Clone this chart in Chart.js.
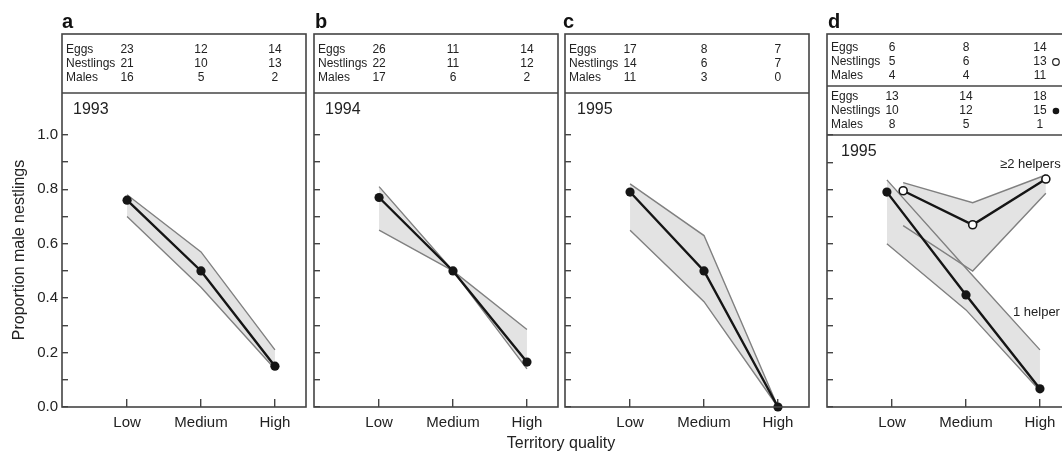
<!DOCTYPE html>
<html>
<head>
<meta charset="utf-8">
<script src="https://cdn.jsdelivr.net/npm/chart.js@4.4.0/dist/chart.umd.min.js"></script>
<style>
  html, body { margin: 0; padding: 0; background: #fff; overflow: hidden; }
  #fig { position: relative; width: 1062px; height: 453px; overflow: hidden; background: #fff; }
  #fig canvas { position: absolute; top: 0; }
  #xtitle { position: absolute; left: 461px; width: 200px; top: 434px; text-align: center;
            font: 16px "Liberation Sans", Arial, Helvetica, sans-serif; color: #222; }
</style>
</head>
<body>
<div id="fig">
  <canvas id="panelA" width="312" height="453" style="left:-2px"></canvas>
  <canvas id="panelB" width="312" height="453" style="left:250px"></canvas>
  <canvas id="panelC" width="312" height="453" style="left:501px"></canvas>
  <canvas id="panelD" width="312" height="453" style="left:763px"></canvas>
  <div id="xtitle">Territory quality</div>
</div>
<script>
const FONT = '"Liberation Sans", Arial, Helvetica, sans-serif';

// categories / ticks
const qualityLabels = ['Low', 'Medium', 'High'];
const qualityX = [0, 1, 2];
const yTicks = [0.0, 0.1, 0.2, 0.3, 0.4, 0.5, 0.6, 0.7, 0.8, 0.9, 1.0];
const rowNames = ['Eggs', 'Nestlings', 'Males'];

// a - 1993
const eggsA = [23, 12, 14];
const nestlingsA = [21, 10, 13];
const malesA = [16, 5, 2];
const meanA = [0.76, 0.50, 0.15];
const upperA = [0.78, 0.57, 0.21];
const lowerA = [0.70, 0.44, 0.14];

// b - 1994
const eggsB = [26, 11, 14];
const nestlingsB = [22, 11, 12];
const malesB = [17, 6, 2];
const meanB = [0.77, 0.50, 0.165];
const upperB = [0.81, 0.50, 0.14];
const lowerB = [0.65, 0.50, 0.285];

// c - 1995
const eggsC = [17, 8, 7];
const nestlingsC = [14, 6, 7];
const malesC = [11, 3, 0];
const meanC = [0.79, 0.50, 0.0];
const upperC = [0.82, 0.63, 0.0];
const lowerC = [0.65, 0.387, 0.0];

// d - 1995 by number of helpers (points slightly shifted off the ticks)
const eggsD2 = [6, 8, 14];
const nestlingsD2 = [5, 6, 13];
const malesD2 = [4, 4, 11];
const eggsD1 = [13, 14, 18];
const nestlingsD1 = [10, 12, 15];
const malesD1 = [8, 5, 1];
const helper2X = [0.15, 1.09, 2.08];
const helper2Mean = [0.795, 0.67, 0.838];
const helper2Upper = [0.825, 0.751, 0.853];
const helper2Lower = [0.667, 0.50, 0.786];
const helper1X = [-0.07, 1.0, 2.0];
const helper1Mean = [0.79, 0.412, 0.067];
const helper1Upper = [0.835, 0.51, 0.21];
const helper1Lower = [0.60, 0.357, 0.06];

function pts(xs, ys) {
    return ys.map((y, i) => ({ x: xs[i], y: y }));
}

function meanSet(xs, ys, open) {
    return {
        data: pts(xs, ys),
        borderColor: '#151515',
        borderWidth: 2.4,
        fill: false,
        clip: false,
        pointRadius: open ? 4 : 4.6,
        pointBorderWidth: open ? 1.6 : 0,
        pointBackgroundColor: open ? '#fff' : '#151515',
        pointBorderColor: '#151515'
    };
}

function bandSets(xs, up, low) {
    return [
        { data: pts(xs, up), borderColor: '#808080', borderWidth: 1.4, pointRadius: 0,
          fill: '+1', backgroundColor: '#e3e3e3', clip: false },
        { data: pts(xs, low), borderColor: '#808080', borderWidth: 1.4, pointRadius: 0,
          fill: false, clip: false }
    ];
}

// box, table, letter and year label
function decor(cfg) {
    return {
        id: 'decor',
        afterDraw(chart) {
            const ctx = chart.ctx;
            const a = chart.chartArea;
            const xs = chart.scales.x;
            const ys = chart.scales.y;
            ctx.save();
            ctx.strokeStyle = '#444';
            ctx.lineWidth = 1.6;
            ctx.strokeRect(a.left, 34, a.right - a.left, a.bottom - 34);
            ctx.fillStyle = '#222';
            ctx.textBaseline = 'middle';
            ctx.font = '12px ' + FONT;
            cfg.blocks.forEach(b => {
                ctx.beginPath();
                ctx.moveTo(a.left, b.sep);
                ctx.lineTo(a.right, b.sep);
                ctx.stroke();
                b.rows.forEach((row, r) => {
                    ctx.textAlign = 'left';
                    ctx.fillText(rowNames[r], a.left + 4, b.y[r]);
                    ctx.textAlign = 'center';
                    row.forEach((v, i) => ctx.fillText(String(v), xs.getPixelForValue(qualityX[i]), b.y[r]));
                });
                if (b.marker) {
                    const mx = xs.getPixelForValue(qualityX[2]) + 16;
                    const my = b.y[1];
                    ctx.beginPath();
                    ctx.arc(mx, my, 3.3, 0, Math.PI * 2);
                    if (b.marker === 'open') {
                        ctx.fillStyle = '#fff';
                        ctx.fill();
                        ctx.lineWidth = 1.2;
                        ctx.strokeStyle = '#222';
                        ctx.stroke();
                    } else {
                        ctx.fillStyle = '#151515';
                        ctx.fill();
                    }
                    ctx.fillStyle = '#222';
                    ctx.strokeStyle = '#444';
                    ctx.lineWidth = 1.6;
                }
            });
            // panel letter
            ctx.textAlign = 'left';
            ctx.textBaseline = 'alphabetic';
            ctx.font = 'bold 20px ' + FONT;
            ctx.fillStyle = '#111';
            ctx.fillText(cfg.letter, a.left + cfg.letterDx, 28);
            // year
            ctx.font = '16px ' + FONT;
            ctx.fillStyle = '#222';
            ctx.fillText(cfg.year, a.left + cfg.yearDx, a.top + 21);
            // annotations
            ctx.font = '13px ' + FONT;
            ctx.textBaseline = 'middle';
            (cfg.notes || []).forEach(n => {
                ctx.fillText(n.text, xs.getPixelForValue(n.x), ys.getPixelForValue(n.y));
            });
            ctx.restore();
        }
    };
}

function makeChart(id, cfg) {
    return new Chart(document.getElementById(id), {
        type: 'line',
        data: { datasets: cfg.datasets },
        options: {
            responsive: false,
            animation: false,
            events: [],
            layout: { autoPadding: false, padding: { top: cfg.plotTop, right: 4, left: 0, bottom: 0 } },
            plugins: {
                legend: { display: false },
                tooltip: { enabled: false },
                filler: { drawTime: 'beforeDatasetsDraw' }
            },
            scales: {
                x: {
                    type: 'linear',
                    min: -0.88,
                    max: 2.42,
                    afterBuildTicks: s => { s.ticks = qualityX.map(v => ({ value: v })); },
                    afterFit: s => { s.height = 46; },
                    grid: { drawOnChartArea: false, tickLength: -8, color: '#444', lineWidth: 1.4 },
                    border: { display: false },
                    ticks: {
                        autoSkip: false,
                        maxRotation: 0,
                        padding: 15,
                        color: '#222',
                        font: { family: FONT, size: 15 },
                        callback: (v, i) => qualityLabels[i]
                    }
                },
                y: {
                    min: 0,
                    max: cfg.yMax,
                    afterBuildTicks: s => { s.ticks = yTicks.map(v => ({ value: v })); },
                    afterFit: s => { s.width = 64; },
                    grid: { drawOnChartArea: false, tickLength: -6, color: '#444', lineWidth: 1.4 },
                    border: { display: false },
                    title: {
                        display: cfg.showY,
                        text: 'Proportion male nestlings',
                        color: '#222',
                        font: { family: FONT, size: 16 },
                        padding: { top: 12, bottom: 0 }
                    },
                    ticks: {
                        autoSkip: false,
                        padding: 10,
                        color: '#222',
                        font: { family: FONT, size: 15 },
                        callback: (v, i) => (cfg.showY && i % 2 === 0) ? yTicks[i].toFixed(1) : ''
                    }
                }
            }
        },
        plugins: [decor(cfg)]
    });
}

const rowsY = [50, 64, 78];

makeChart('panelA', {
    letter: 'a', letterDx: 0, year: '1993', yearDx: 11, showY: true, plotTop: 93, yMax: 1.154,
    blocks: [{ rows: [eggsA, nestlingsA, malesA], y: rowsY, sep: 93 }],
    datasets: [meanSet(qualityX, meanA, false)].concat(bandSets(qualityX, upperA, lowerA))
});

makeChart('panelB', {
    letter: 'b', letterDx: 1, year: '1994', yearDx: 11, showY: false, plotTop: 93, yMax: 1.154,
    blocks: [{ rows: [eggsB, nestlingsB, malesB], y: rowsY, sep: 93 }],
    datasets: [meanSet(qualityX, meanB, false)].concat(bandSets(qualityX, upperB, lowerB))
});

makeChart('panelC', {
    letter: 'c', letterDx: -2, year: '1995', yearDx: 12, showY: false, plotTop: 93, yMax: 1.154,
    blocks: [{ rows: [eggsC, nestlingsC, malesC], y: rowsY, sep: 93 }],
    datasets: [meanSet(qualityX, meanC, false)].concat(bandSets(qualityX, upperC, lowerC))
});

makeChart('panelD', {
    letter: 'd', letterDx: 1, year: '1995', yearDx: 14, showY: false, plotTop: 135, yMax: 1.0,
    blocks: [
        { rows: [eggsD2, nestlingsD2, malesD2], y: [48, 62, 76], sep: 86, marker: 'open' },
        { rows: [eggsD1, nestlingsD1, malesD1], y: [97, 111, 125], sep: 135, marker: 'filled' }
    ],
    notes: [
        { text: '\u22652 helpers', x: 1.46, y: 0.893 },
        { text: '1 helper', x: 1.635, y: 0.346 }
    ],
    datasets: [meanSet(helper2X, helper2Mean, true), meanSet(helper1X, helper1Mean, false)]
        .concat(bandSets(helper2X, helper2Upper, helper2Lower))
        .concat(bandSets(helper1X, helper1Upper, helper1Lower))
});
</script>
</body>
</html>
